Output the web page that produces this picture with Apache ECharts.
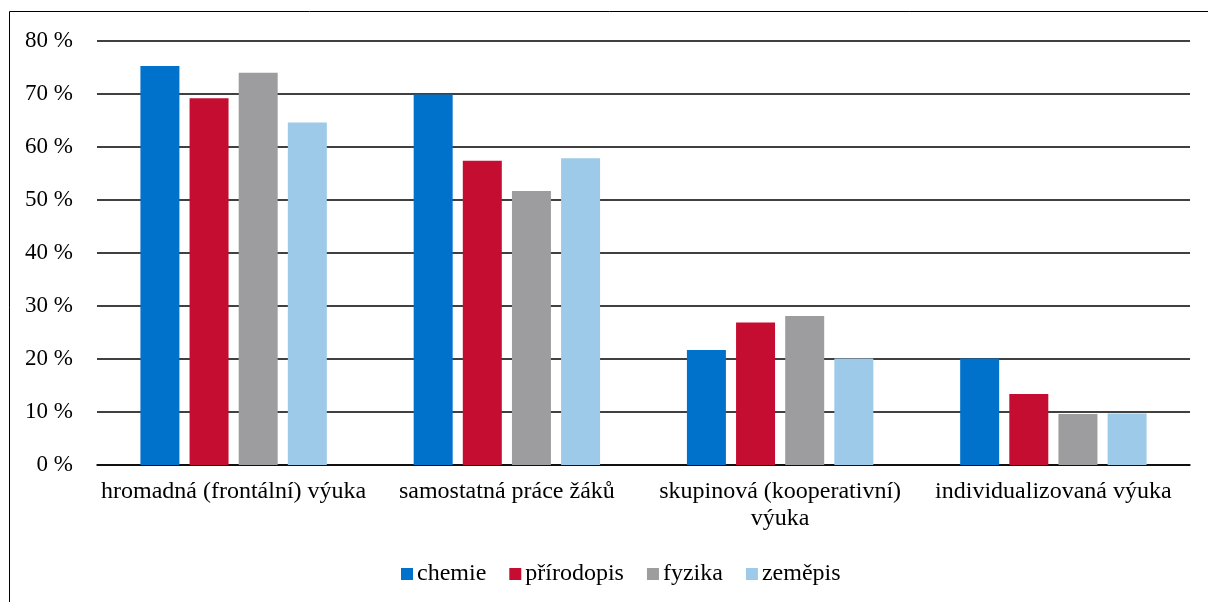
<!DOCTYPE html>
<html>
<head>
<meta charset="utf-8">
<script src="https://cdn.jsdelivr.net/npm/echarts@6/dist/echarts.min.js"></script>
<style>
html,body{margin:0;padding:0;background:#fff;}
#chart{width:1208px;height:602px;}
</style>
</head>
<body>
<div id="chart"></div>
<script>
const categories = ['hromadná (frontální) výuka', 'samostatná práce žáků', 'skupinová (kooperativní)\nvýuka', 'individualizovaná výuka'];
const seriesNames = ['chemie', 'přírodopis', 'fyzika', 'zeměpis'];
const chemie = [75.3, 69.9, 21.7, 20.1];
const prirodopis = [69.2, 57.4, 26.9, 13.4];
const fyzika = [74.0, 51.7, 28.1, 9.6];
const zemepis = [64.6, 57.9, 20.1, 9.7];
const yTicks = [0, 10, 20, 30, 40, 50, 60, 70, 80];

const colors = ['#0072CC', '#C50D31', '#9D9D9F', '#9DCAE8'];
const values = [chemie, prirodopis, fyzika, zemepis];
const FONT = '"Liberation Serif", "Times New Roman", serif';

const chart = echarts.init(document.getElementById('chart'));
chart.setOption({
  animation: false,
  backgroundColor: '#fff',
  graphic: [{
    type: 'rect',
    shape: {x: 9.5, y: 11.5, width: 1400, height: 800},
    style: {fill: 'none', stroke: '#000', lineWidth: 1},
    silent: true
  }],
  grid: {left: 97, right: 18, top: 41, bottom: 137, containLabel: false},
  legend: {
    data: seriesNames,
    left: 396,
    top: 557,
    itemWidth: 12,
    itemHeight: 12,
    itemGap: 23,
    icon: 'rect',
    textStyle: {fontFamily: FONT, fontSize: 24, color: '#000', padding: [0, 0, 0, -1]}
  },
  xAxis: {
    type: 'category',
    data: categories,
    axisLine: {show: true, lineStyle: {color: '#000', width: 1.6}},
    axisTick: {show: false},
    axisLabel: {interval: 0, margin: 13, fontFamily: FONT, fontSize: 24, color: '#000', lineHeight: 27}
  },
  yAxis: {
    type: 'value',
    min: yTicks[0],
    max: yTicks[yTicks.length - 1],
    interval: 10,
    axisLine: {show: false},
    axisTick: {show: false},
    splitLine: {lineStyle: {color: '#000', width: 1.6}},
    axisLabel: {margin: 24, fontFamily: FONT, fontSize: 23, color: '#000', formatter: '{value} %'}
  },
  series: seriesNames.map((name, i) => ({
    name: name,
    type: 'bar',
    data: values[i],
    barWidth: 39,
    barGap: '26%',
    itemStyle: {color: colors[i]}
  }))
});
</script>
</body>
</html>
